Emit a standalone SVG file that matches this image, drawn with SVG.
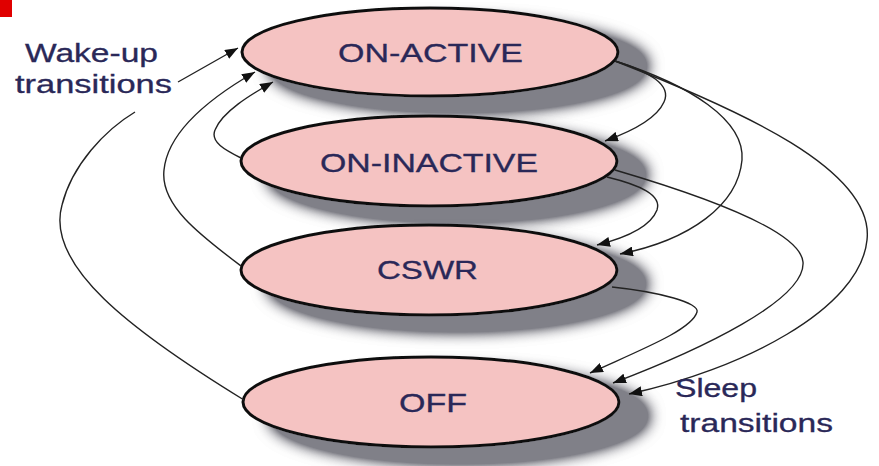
<svg xmlns="http://www.w3.org/2000/svg" width="879" height="466" viewBox="0 0 879 466">
  <defs>
    <style>
      .state { fill: #f5c3c2; stroke: #111; stroke-width: 3; filter: url(#shadow); }
      .label { font-family: "Liberation Sans", Arial, sans-serif; font-size: 25px; fill: #2a2858; stroke: #2a2858; stroke-width: 0.3; }
      .edge { fill: none; stroke: #222; stroke-width: 1.4; marker-end: url(#arrow); }
    </style>
    <filter id="shadow" x="-20%" y="-40%" width="150%" height="200%">
      <feGaussianBlur in="SourceAlpha" stdDeviation="8" result="blur"/>
      <feOffset in="blur" dx="28" dy="14" result="off"/>
      <feComponentTransfer in="off" result="dense">
        <feFuncA type="linear" slope="2.4"/>
      </feComponentTransfer>
      <feFlood flood-color="#808088" result="col"/>
      <feComposite in="col" in2="dense" operator="in" result="shade"/>
      <feMerge>
        <feMergeNode in="shade"/>
        <feMergeNode in="SourceGraphic"/>
      </feMerge>
    </filter>
    <marker id="arrow" markerUnits="userSpaceOnUse" markerWidth="14" markerHeight="10" refX="13" refY="5" orient="auto">
      <path d="M0,0 L13,5 L0,10 Z" fill="#111"/>
    </marker>
  </defs>

  <rect x="0" y="0" width="12" height="17" fill="#e00000"/>

  <!-- states -->
  <g id="on-active">
    <ellipse class="state" cx="430" cy="52" rx="188" ry="44"/>
    <text class="label" x="338" y="62" textLength="185" lengthAdjust="spacingAndGlyphs">ON-ACTIVE</text>
  </g>
  <g id="on-inactive">
    <ellipse class="state" cx="429" cy="161" rx="188" ry="45"/>
    <text class="label" x="320" y="172" textLength="218" lengthAdjust="spacingAndGlyphs">ON-INACTIVE</text>
  </g>
  <g id="cswr">
    <ellipse class="state" cx="429" cy="270" rx="188" ry="45"/>
    <text class="label" x="377" y="279" textLength="101" lengthAdjust="spacingAndGlyphs">CSWR</text>
  </g>
  <g id="off">
    <ellipse class="state" cx="431" cy="402" rx="188" ry="45"/>
    <text class="label" x="399" y="412" textLength="68" lengthAdjust="spacingAndGlyphs">OFF</text>
  </g>

  <!-- transitions -->
  <g id="connectors">
    <!-- wake-up -->
    <path class="edge" d="M244,400 C130,330 45,265 62,205 C72,165 105,130 135,112 M178,82 L238,48"/>
    <path class="edge" d="M241,266 C200,235 160,205 164,170 C168,130 215,95 255,72"/>
    <path class="edge" d="M241,158 C225,150 210,142 215,130 C222,112 250,95 273,82"/>
    <!-- sleep -->
    <path class="edge" d="M615,61 C650,72 672,85 664,102 C656,120 630,132 605,141"/>
    <path class="edge" d="M615,61 C690,85 745,120 742,160 C738,205 690,240 620,254"/>
    <path class="edge" d="M615,61 C740,110 875,170 867,240 C860,310 740,370 629,394"/>
    <path class="edge" d="M607,177 C640,185 662,195 657,210 C650,228 625,238 597,245"/>
    <path class="edge" d="M615,170 C700,195 800,230 803,262 C806,300 700,350 613,383"/>
    <path class="edge" d="M612,287 C660,292 700,303 697,312 C692,330 640,350 590,373"/>
  </g>

  <!-- annotations -->
  <g id="wake-up-label">
    <text class="label" x="25" y="62" textLength="133" lengthAdjust="spacingAndGlyphs">Wake-up</text>
    <text class="label" x="15" y="93" textLength="157" lengthAdjust="spacingAndGlyphs">transitions</text>
  </g>
  <g id="sleep-label">
    <rect x="667" y="403" width="180" height="38" fill="#fff"/>
    <text class="label" x="675" y="397" textLength="82" lengthAdjust="spacingAndGlyphs">Sleep</text>
    <text class="label" x="680" y="432" textLength="153" lengthAdjust="spacingAndGlyphs">transitions</text>
  </g>
</svg>
